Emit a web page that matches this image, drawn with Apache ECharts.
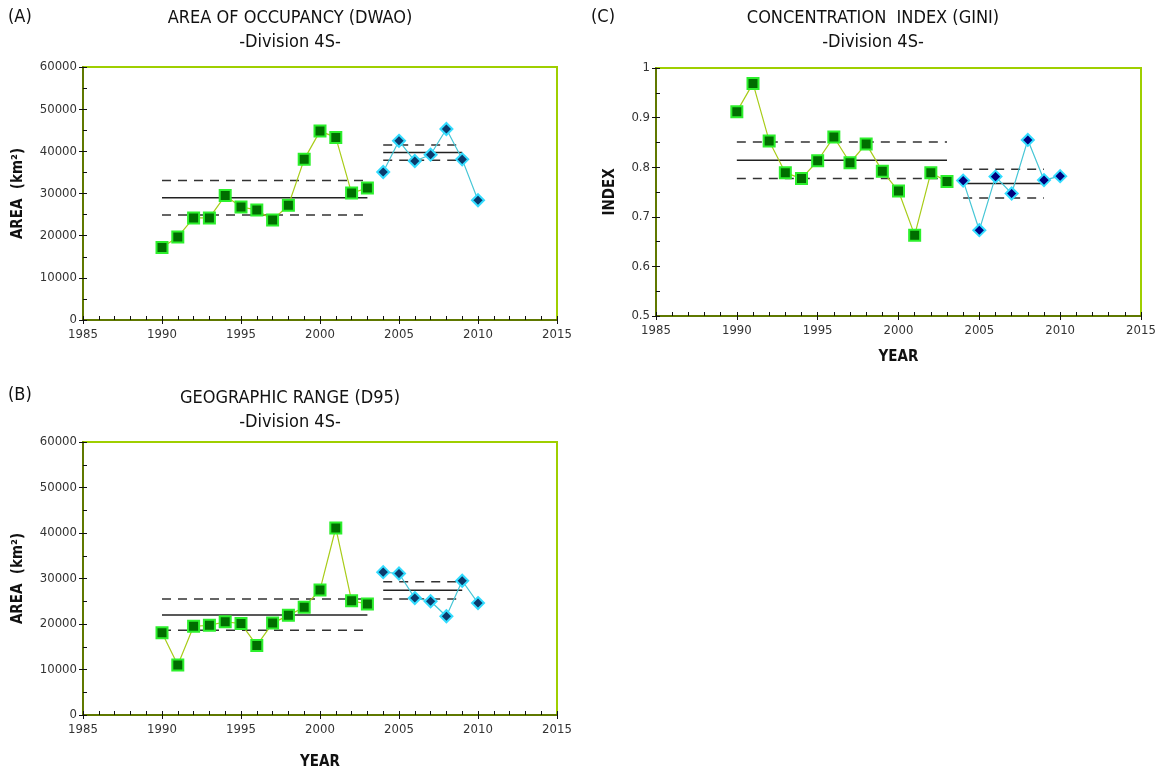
<!DOCTYPE html>
<html>
<head>
<meta charset="utf-8">
<title>Division 4S indices</title>
<script src="https://cdn.jsdelivr.net/npm/echarts@6/dist/echarts.min.js"></script>
<style>
  html, body { margin: 0; padding: 0; background: #fff; }
  #chart { width: 1162px; height: 773px; }
</style>
</head>
<body>
<div id="chart"></div>
<script>
// Survey years
const yearsEarly = [1990, 1991, 1992, 1993, 1994, 1995, 1996, 1997, 1998, 1999, 2000, 2001, 2002, 2003];
const yearsLate = [2004, 2005, 2006, 2007, 2008, 2009, 2010];

// (A) Area of occupancy, km2
const dwaoEarly = [17200, 19700, 24200, 24200, 29500, 26800, 26100, 23700, 27200, 38100, 44800, 43300, 30100, 31300];
const dwaoLate = [35100, 42500, 37700, 39200, 45300, 38100, 28400];
// mean, upper and lower limit for each period
const dwaoEarlyStats = [29000, 33100, 24900];
const dwaoLateStats = [39700, 41500, 37900];

// (B) Geographic range, km2
const d95Early = [18100, 11000, 19500, 19700, 20500, 20100, 15300, 20200, 21900, 23700, 27500, 41100, 25100, 24400];
const d95Late = [31400, 31100, 25700, 25000, 21700, 29500, 24600];
const d95EarlyStats = [22000, 25500, 18600];
const d95LateStats = [27400, 29300, 25500];

// (C) Gini concentration index
const giniEarly = [0.912, 0.969, 0.853, 0.789, 0.777, 0.813, 0.861, 0.809, 0.847, 0.792, 0.752, 0.663, 0.789, 0.771];
const giniLate = [0.773, 0.673, 0.781, 0.747, 0.855, 0.774, 0.782];
const giniEarlyStats = [0.814, 0.851, 0.777];
const giniLateStats = [0.767, 0.796, 0.738];

// Horizontal extent of the mean / limit lines
const earlySpan = [1990, 2003];
const lateSpan = [2004, 2009];

const FONT = "'Liberation Sans Narrow', 'DejaVu Sans Condensed', 'Noto Sans', sans-serif";

const grids = [
  { left: 83, top: 67, width: 474, height: 253 },   // A
  { left: 83, top: 442, width: 474, height: 273 },  // B
  { left: 656, top: 68, width: 485, height: 248 }   // C
].map(g => Object.assign(g, {
  show: true, borderColor: '#9fcf00', borderWidth: 2, backgroundColor: '#fff', containLabel: false
}));

const axisLineStyle = { color: '#4b5c00', width: 1.5 };
const plain = v => String(v);

function majorX(gridIndex, name, nameGap) {
  return {
    type: 'value', gridIndex, position: 'bottom', min: 1985, max: 2015, interval: 5,
    axisLine: { show: true, onZero: false, lineStyle: axisLineStyle },
    axisTick: { show: true, inside: false, length: 4, lineStyle: { color: '#111' } },
    axisLabel: { color: '#333', fontFamily: FONT, fontSize: 13, margin: 8, formatter: plain },
    splitLine: { show: false },
    name: name || '', nameLocation: 'middle', nameGap: nameGap || 30,
    nameTextStyle: { fontFamily: FONT, fontSize: 15, fontWeight: 'bold', color: '#111' }
  };
}
function minorX(gridIndex) {
  return {
    type: 'value', gridIndex, position: 'bottom', min: 1985, max: 2015, interval: 1,
    axisLine: { show: false, onZero: false },
    axisTick: { show: true, inside: true, length: 4, lineStyle: { color: '#111' } },
    axisLabel: { show: false }, splitLine: { show: false }
  };
}
function majorY(gridIndex, min, max, interval, name, nameGap) {
  return {
    type: 'value', gridIndex, position: 'left', min, max, interval,
    axisLine: { show: true, onZero: false, lineStyle: axisLineStyle },
    axisTick: { show: true, inside: false, length: 4, lineStyle: { color: '#111' } },
    axisLabel: { color: '#333', fontFamily: FONT, fontSize: 13, margin: 6, formatter: plain },
    splitLine: { show: false },
    name, nameLocation: 'middle', nameGap, nameRotate: 90,
    nameTextStyle: { fontFamily: FONT, fontSize: 15, fontWeight: 'bold', color: '#111' }
  };
}
function minorY(gridIndex, min, max, interval) {
  return {
    type: 'value', gridIndex, position: 'left', min, max, interval,
    axisLine: { show: false, onZero: false },
    axisTick: { show: true, inside: true, length: 4, lineStyle: { color: '#111' } },
    axisLabel: { show: false }, splitLine: { show: false }
  };
}

const xAxis = [
  majorX(0), majorX(1, 'YEAR', 40), majorX(2, 'YEAR', 34),
  minorX(0), minorX(1), minorX(2)
];
const yAxis = [
  majorY(0, 0, 60000, 10000, 'AREA  (km²)', 57),
  majorY(1, 0, 60000, 10000, 'AREA  (km²)', 57),
  majorY(2, 0.5, 1, 0.1, 'INDEX', 38),
  minorY(0, 0, 60000, 5000), minorY(1, 0, 60000, 5000), minorY(2, 0.5, 1, 0.05)
];

function pairs(xs, ys) { return xs.map((x, i) => [x, ys[i]]); }

function pointSeries(axis, xs, ys, early, fill) {
  return {
    type: 'line', xAxisIndex: axis, yAxisIndex: axis, z: 5,
    data: pairs(xs, ys),
    symbol: early ? 'rect' : 'diamond',
    symbolSize: early ? 11 : 12,
    lineStyle: { color: early ? '#a8cc18' : '#46c6d6', width: 1.2 },
    itemStyle: early
      ? { color: '#006e00', borderColor: '#2cf02c', borderWidth: 2 }
      : { color: fill, borderColor: '#33dcff', borderWidth: 2 },
    animation: false, silent: true
  };
}

function statSeries(axis, span, stats) {
  const out = [];
  stats.forEach((v, i) => {
    out.push({
      type: 'line', xAxisIndex: axis, yAxisIndex: axis, z: 3,
      data: [[span[0], v], [span[1], v]], symbol: 'none',
      lineStyle: i === 0
        ? { color: '#222', width: 1.5 }
        : { color: '#333', width: 1.5, type: [9, 7] },
      animation: false, silent: true
    });
  });
  return out;
}

const series = [
  ...statSeries(0, earlySpan, dwaoEarlyStats), ...statSeries(0, lateSpan, dwaoLateStats),
  pointSeries(0, yearsEarly, dwaoEarly, true), pointSeries(0, yearsLate, dwaoLate, false, '#0b3a6c'),
  ...statSeries(1, earlySpan, d95EarlyStats), ...statSeries(1, lateSpan, d95LateStats),
  pointSeries(1, yearsEarly, d95Early, true), pointSeries(1, yearsLate, d95Late, false, '#0b3a6c'),
  ...statSeries(2, earlySpan, giniEarlyStats), ...statSeries(2, lateSpan, giniLateStats),
  pointSeries(2, yearsEarly, giniEarly, true), pointSeries(2, yearsLate, giniLate, false, '#00007e')
];

function label(x, y, text, size) {
  return { type: 'text', left: x, top: y,
    style: { text, fontFamily: FONT, fontSize: size, fill: '#111', textAlign: 'left' } };
}
function title(cx, y, text) {
  return { type: 'text', x: cx, y,
    style: { text, fontFamily: FONT, fontSize: 18, fill: '#111', align: 'center', verticalAlign: 'top', lineHeight: 24 } };
}

const chart = echarts.init(document.getElementById('chart'), null, { renderer: 'canvas' });
chart.setOption({
  animation: false,
  grid: grids,
  xAxis, yAxis, series,
  graphic: [
    label(8, 8, '(A)', 18), label(8, 386, '(B)', 18), label(591, 8, '(C)', 18),
    title(290, 6, 'AREA OF OCCUPANCY (DWAO)\n-Division 4S-'),
    title(290, 386, 'GEOGRAPHIC RANGE (D95)\n-Division 4S-'),
    title(873, 6, 'CONCENTRATION  INDEX (GINI)\n-Division 4S-')
  ]
});
</script>
</body>
</html>
